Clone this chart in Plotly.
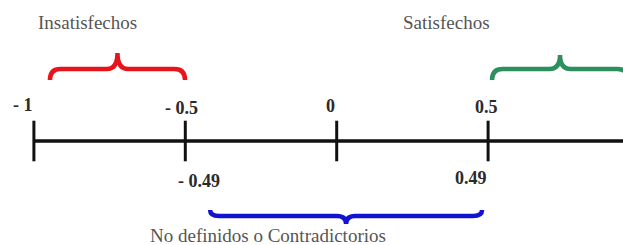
import plotly.graph_objects as go

# ---- data ----
tick_values = [-1, -0.5, 0, 0.5, 1]
tick_labels = ["- 1", "- 0.5", "0", "0.5", "1"]
lower_values = [-0.49, 0.49]
lower_labels = ["- 0.49", "0.49"]
group_names = ["Insatisfechos", "Satisfechos", "No definidos o Contradictorios"]
group_spans = [(-0.947, -0.501), (0.513, 0.962), (-0.418, 0.480)]
group_colors = ["#e8141c", "#2b8f5e", "#1212d2"]

# ---- layout constants ----
W, H = 623, 245
PX0, PXU = 336.7, 302.8      # pixel of x=0, pixels per unit
X_RANGE = [(0 - PX0) / PXU, (W - PX0) / PXU]
Y_RANGE = [H, 0]             # y values are pixels from the top
AXIS_Y = 141

fig = go.Figure()

# main axis line
fig.add_trace(go.Scatter(x=[tick_values[0], tick_values[-1]], y=[AXIS_Y, AXIS_Y],
                         mode="lines", line=dict(color="#111", width=3.5),
                         hoverinfo="skip", showlegend=False))
# tick marks
fig.add_trace(go.Scatter(x=tick_values, y=[AXIS_Y] * len(tick_values), mode="markers",
                         marker=dict(symbol="line-ns", size=29,
                                     line=dict(color="#111", width=3)),
                         hoverinfo="skip", showlegend=False))

label_font = dict(family="Liberation Serif", size=18, color="#2a2a2a")
top_shift = [-11, -4, -6, -2, -14]
top_y = [105, 108, 106, 107, 107]
for v, t, s, y in zip(tick_values, tick_labels, top_shift, top_y):
    fig.add_annotation(x=v, y=y, text="<b>%s</b>" % t, showarrow=False,
                       xshift=s, font=label_font, xanchor="center", yanchor="middle")
low_shift = [11, -14]
low_y = [181, 178]
for v, t, s, y in zip(lower_values, lower_labels, low_shift, low_y):
    fig.add_annotation(x=v, y=y, text="<b>%s</b>" % t, showarrow=False,
                       xshift=s, font=label_font, xanchor="center", yanchor="middle")


def brace_path(x0, x1, y_end, y_flat, y_tip, d):
    xm = (x0 + x1) / 2
    return (f"M {x0},{y_end} Q {x0},{y_flat} {x0 + d},{y_flat} "
            f"L {xm - d},{y_flat} Q {xm},{y_flat} {xm},{y_tip} "
            f"Q {xm},{y_flat} {xm + d},{y_flat} "
            f"L {x1 - d},{y_flat} Q {x1},{y_flat} {x1},{y_end}")


brace_y = [(80, 69, 53), (80, 69, 55), (210, 216, 224)]
brace_d = [0.035, 0.035, 0.03]
for (x0, x1), col, (ye, yf, yt), d in zip(group_spans, group_colors, brace_y, brace_d):
    fig.add_shape(type="path", path=brace_path(x0, x1, ye, yf, yt, d),
                  xref="x", yref="y", line=dict(color=col, width=4.5))

name_font = dict(family="Liberation Serif", size=19, color="#555")
name_pos = [(-0.823, 22), (0.361, 22), (-0.227, 235)]
for n, (x, y) in zip(group_names, name_pos):
    fig.add_annotation(x=x, y=y, text=n, showarrow=False, font=name_font,
                       xanchor="center", yanchor="middle")

fig.update_layout(width=W, height=H, margin=dict(l=0, r=0, t=0, b=0),
                  plot_bgcolor="white", paper_bgcolor="white",
                  xaxis=dict(range=X_RANGE, visible=False, fixedrange=True),
                  yaxis=dict(range=Y_RANGE, visible=False, fixedrange=True))

fig.write_html("out.html",
               config={"displayModeBar": False, "staticPlot": True},
               post_script="document.body.style.margin='0';"
                           "document.body.style.overflow='hidden';")
